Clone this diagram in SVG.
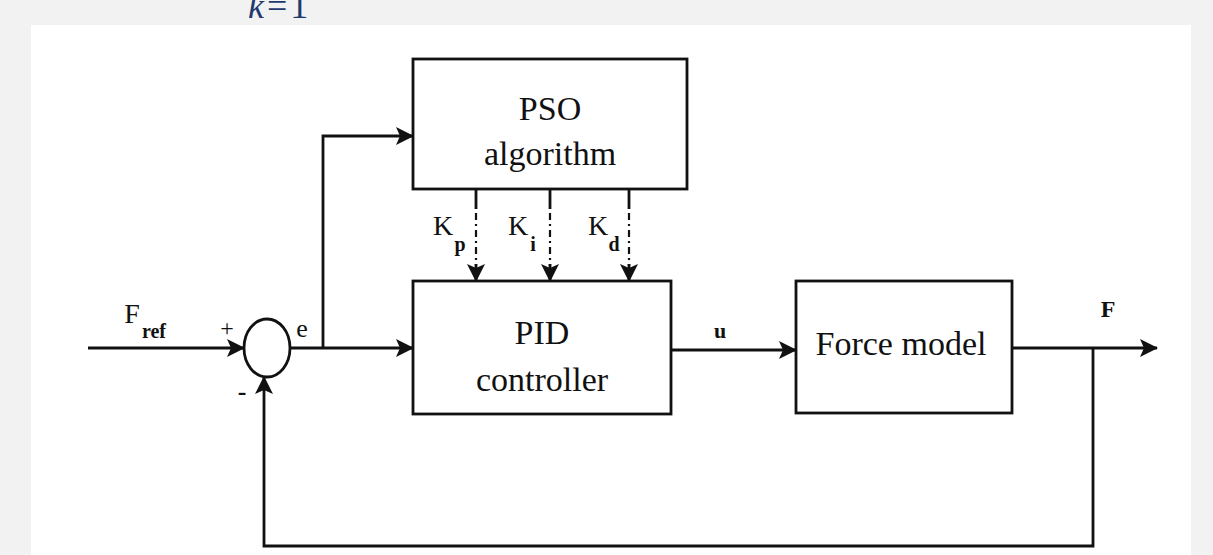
<svg xmlns="http://www.w3.org/2000/svg" width="1213" height="555" viewBox="0 0 1213 555">
<style>
.box{fill:#fff;stroke:#111;stroke-width:2.8}
.ln{fill:none;stroke:#111;stroke-width:2.8}
.dl{fill:none;stroke:#111;stroke-width:2.2;stroke-dasharray:7,4,2,4}
.t{font-family:"Times New Roman","Liberation Serif",Tinos,"DejaVu Serif",serif;fill:#111;text-anchor:middle}
.big{font-size:34px}
.lab{font-size:28px}
.sub{font-size:20px;font-weight:bold}
</style>
<defs>
<marker id="ah" viewBox="0 0 18 20" refX="17" refY="10" markerWidth="18" markerHeight="20" markerUnits="userSpaceOnUse" orient="auto">
<path d="M0,1 L18,10 L0,19 L4,10 z" fill="#111"/>
</marker>
</defs>
<rect x="0" y="0" width="1213" height="555" fill="#f2f2f2"/>
<rect x="31" y="25" width="1160" height="530" fill="#fff"/>
<text x="248" y="18" font-family="'Times New Roman','Liberation Serif',serif" font-size="36" letter-spacing="3" fill="#1f3a6e"><tspan font-style="italic">k</tspan>=1</text>

<g id="connectors">
<line class="ln" x1="88" y1="348" x2="244" y2="348" marker-end="url(#ah)"/>
<line class="ln" x1="290" y1="348" x2="413" y2="348" marker-end="url(#ah)"/>
<polyline class="ln" points="323,348 323,136 413,136" marker-end="url(#ah)"/>
<line class="ln" x1="671" y1="350" x2="796" y2="350" marker-end="url(#ah)"/>
<line class="ln" x1="1012" y1="348" x2="1157" y2="348" marker-end="url(#ah)"/>
<polyline class="ln" points="1093,348 1093,546 264,546 264,377" marker-end="url(#ah)"/>
<line class="ln" x1="476" y1="189" x2="476" y2="209"/>
<line class="dl" x1="476" y1="213" x2="476" y2="266"/>
<line class="ln" x1="476" y1="264" x2="476" y2="281" marker-end="url(#ah)"/>
<line class="ln" x1="550" y1="189" x2="550" y2="209"/>
<line class="dl" x1="550" y1="213" x2="550" y2="266"/>
<line class="ln" x1="550" y1="264" x2="550" y2="281" marker-end="url(#ah)"/>
<line class="ln" x1="629" y1="189" x2="629" y2="209"/>
<line class="dl" x1="629" y1="213" x2="629" y2="266"/>
<line class="ln" x1="629" y1="264" x2="629" y2="281" marker-end="url(#ah)"/>
<text class="t lab" x="132" y="323">F</text>
<text class="t sub" x="154" y="338">ref</text>
<text class="t" x="227" y="336" font-size="24">+</text>
<text class="t" x="242" y="400" font-size="26" font-weight="bold">-</text>
<text class="t" x="302" y="337" font-size="26">e</text>
<text class="t" x="720" y="338" font-size="22" font-weight="bold">u</text>
<text class="t" x="1108" y="317" font-size="24" font-weight="bold">F</text>
<text class="t lab" x="443" y="235">K</text>
<text class="t sub" x="460" y="251">p</text>
<text class="t lab" x="518" y="235">K</text>
<text class="t sub" x="533" y="251">i</text>
<text class="t lab" x="598" y="235">K</text>
<text class="t sub" x="614" y="251">d</text>
</g>

<g id="sum">
<ellipse class="box" cx="267" cy="348" rx="23" ry="29"/>
</g>
<g id="pso">
<rect class="box" x="413" y="59" width="274" height="130"/>
<text class="t big" x="550" y="120">PSO</text>
<text class="t big" x="550" y="165">algorithm</text>
</g>
<g id="pid">
<rect class="box" x="413" y="281" width="258" height="133"/>
<text class="t big" x="542" y="344">PID</text>
<text class="t big" x="542" y="391">controller</text>
</g>
<g id="force">
<rect class="box" x="796" y="281" width="216" height="132"/>
<text class="t big" x="901" y="355">Force model</text>
</g>
</svg>
